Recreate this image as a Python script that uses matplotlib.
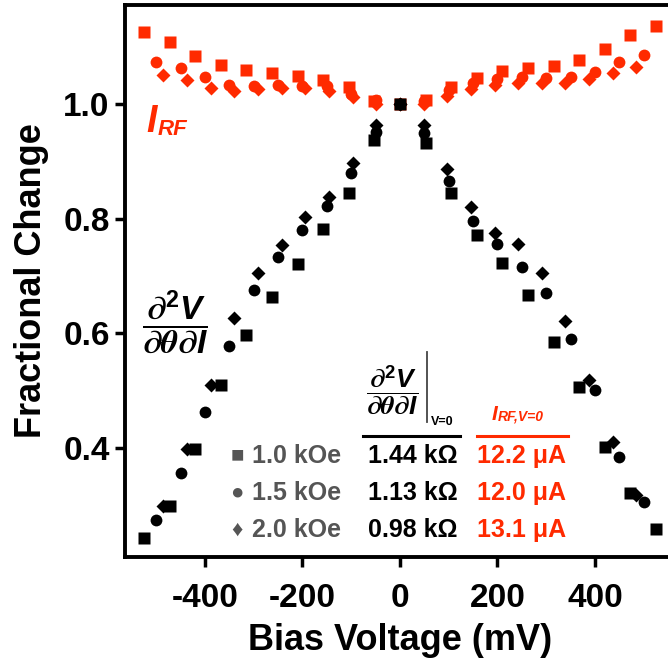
import matplotlib
matplotlib.use('Agg')
import matplotlib.pyplot as plt

plt.rcParams['font.family'] = ['Liberation Sans', 'DejaVu Sans']
plt.rcParams['font.weight'] = 'bold'
plt.rcParams['axes.unicode_minus'] = False
# thin partials / theta, bold-italic V and I in the fractions
plt.rcParams['mathtext.fontset'] = 'custom'
plt.rcParams['mathtext.rm'] = 'STIXGeneral'
plt.rcParams['mathtext.it'] = 'STIXGeneral:italic'
plt.rcParams['mathtext.bf'] = 'Liberation Sans:bold'
plt.rcParams['mathtext.bfit'] = 'Liberation Sans:italic:bold'

red = '#ff2a00'
gray = '#555555'

# bias voltage (mV) of each sweep
v_10 = [-525, -472.5, -420, -367.5, -315, -262.5, -210, -157.5, -105, -52.5, 0,
        52.5, 105, 157.5, 210, 262.5, 315, 367.5, 420, 472.5, 525]
v_15 = [-500, -450, -400, -350, -300, -250, -200, -150, -100, -50, 0,
        50, 100, 150, 200, 250, 300, 350, 400, 450, 500]
v_20 = [-485, -436.5, -388, -339.5, -291, -242.5, -194, -145.5, -97, -48.5, 0,
        48.5, 97, 145.5, 194, 242.5, 291, 339.5, 388, 436.5, 485]

# d2V/dθdI normalised to its V=0 value
d2v_10 = [0.243, 0.299, 0.398, 0.510, 0.597, 0.663, 0.721, 0.782, 0.845, 0.937, 1.0,
          0.932, 0.845, 0.771, 0.723, 0.667, 0.585, 0.506, 0.402, 0.321, 0.259]
d2v_15 = [0.274, 0.356, 0.463, 0.578, 0.676, 0.733, 0.780, 0.822, 0.880, 0.951, 1.0,
          0.949, 0.866, 0.796, 0.756, 0.716, 0.670, 0.590, 0.501, 0.384, 0.306]
d2v_20 = [0.299, 0.398, 0.510, 0.627, 0.705, 0.754, 0.803, 0.838, 0.897, 0.963, 1.0,
          0.963, 0.887, 0.820, 0.775, 0.756, 0.705, 0.622, 0.519, 0.410, 0.318]

# I_RF normalised to its V=0 value
irf_10 = [1.126, 1.108, 1.084, 1.068, 1.059, 1.054, 1.049, 1.042, 1.030, 1.005, 1.0,
          1.007, 1.030, 1.045, 1.058, 1.063, 1.066, 1.077, 1.096, 1.120, 1.136]
irf_15 = [1.073, 1.063, 1.047, 1.033, 1.031, 1.033, 1.031, 1.031, 1.017, 1.007, 1.0,
          1.005, 1.024, 1.037, 1.044, 1.047, 1.045, 1.047, 1.056, 1.073, 1.085]
irf_20 = [1.051, 1.042, 1.028, 1.023, 1.026, 1.028, 1.028, 1.023, 1.012, 1.0, 1.0,
          1.0, 1.014, 1.026, 1.033, 1.037, 1.037, 1.037, 1.044, 1.054, 1.065]

fields = ['1.0 kOe', '1.5 kOe', '2.0 kOe']
d2v_zero = ['1.44 k\u03a9', '1.13 k\u03a9', '0.98 k\u03a9']
irf_zero = ['12.2 \u03bcA', '12.0 \u03bcA', '13.1 \u03bcA']
symbols = ['\u25a0', '\u25cf', '\u2666']

volts = [v_10, v_15, v_20]
d2v = [d2v_10, d2v_15, d2v_20]
irf = [irf_10, irf_15, irf_20]
markers = ['s', 'o', 'D']
msize = [8.5, 8.5, 7.0]

frac = r'$\dfrac{\partial^{\mathbf{2}}\mathbfit{V}}{\partial\theta\partial\mathbfit{I}}$'

fig = plt.figure(figsize=(6.68, 6.67), dpi=100)
ax = fig.add_axes([0.187, 0.165, 0.8234, 0.8276])

for v, y, m, s in zip(volts, irf, markers, msize):
    ax.plot(v, y, ls='none', marker=m, ms=s, color=red, mec='none')
for v, y, m, s in zip(volts, d2v, markers, msize):
    ax.plot(v, y, ls='none', marker=m, ms=s, color='black', mec='none')

ax.set_xlim(-564, 564)
ax.set_ylim(0.21, 1.173)
ax.set_xticks([-400, -200, 0, 200, 400])
ax.set_yticks([0.4, 0.6, 0.8, 1.0])
ax.set_yticklabels(['0.4', '0.6', '0.8', '1.0'])
for sp in ax.spines.values():
    sp.set_linewidth(2.8)
ax.tick_params(direction='out', length=7, width=2.5, labelsize=24)
ax.tick_params(axis='x', pad=12)
ax.tick_params(axis='y', pad=4)
ax.set_xlabel('Bias Voltage (mV)', fontsize=26, fontweight='bold', labelpad=6)
ax.set_ylabel('Fractional Change', fontsize=26, fontweight='bold', labelpad=10)

# curve labels
t_i = ax.text(-521, 0.951, 'I', color=red, fontsize=27, style='italic',
              weight='bold', ha='left', va='baseline')
ax.annotate('RF', xy=(1, 0), xycoords=t_i, xytext=(1, 0), textcoords='offset points',
            color=red, fontsize=16, style='italic', weight='bold', ha='left', va='bottom')
ax.text(-462, 0.620, frac, fontsize=24, ha='center', va='center')

# header of the V=0 table
ax.text(-70, 0.501, frac, fontsize=19, ha='left', va='center')
ax.plot([0.549, 0.549], [0.245, 0.371], color='#444444', lw=1.3, transform=ax.transAxes)
ax.text(64, 0.440, 'V=0', fontsize=9, weight='bold', ha='left', va='baseline')
t_h = ax.text(189, 0.449, 'I', color=red, fontsize=15, style='italic',
              weight='bold', ha='left', va='baseline')
ax.annotate('RF,V=0', xy=(1, 0), xycoords=t_h, xytext=(0, 0), textcoords='offset points',
            color=red, fontsize=10, style='italic', weight='bold', ha='left', va='bottom')
ax.plot([0.433, 0.609], [0.219, 0.219], color='black', lw=2.2, transform=ax.transAxes,
        clip_on=False)
ax.plot([0.640, 0.805], [0.219, 0.219], color=red, lw=2.2, transform=ax.transAxes,
        clip_on=False)

row_y = [0.386, 0.3215, 0.257]
for i in range(3):
    ax.text(-334, row_y[i], symbols[i], color=gray, fontsize=16, ha='center', va='center')
    ax.text(-304, row_y[i], fields[i], color=gray, fontsize=18, ha='left', va='center')
    ax.text(27, row_y[i], d2v_zero[i], color='black', fontsize=18, ha='center', va='center')
    ax.text(250, row_y[i], irf_zero[i], color=red, fontsize=18, ha='center', va='center')

fig.savefig('out.png', dpi=100)
